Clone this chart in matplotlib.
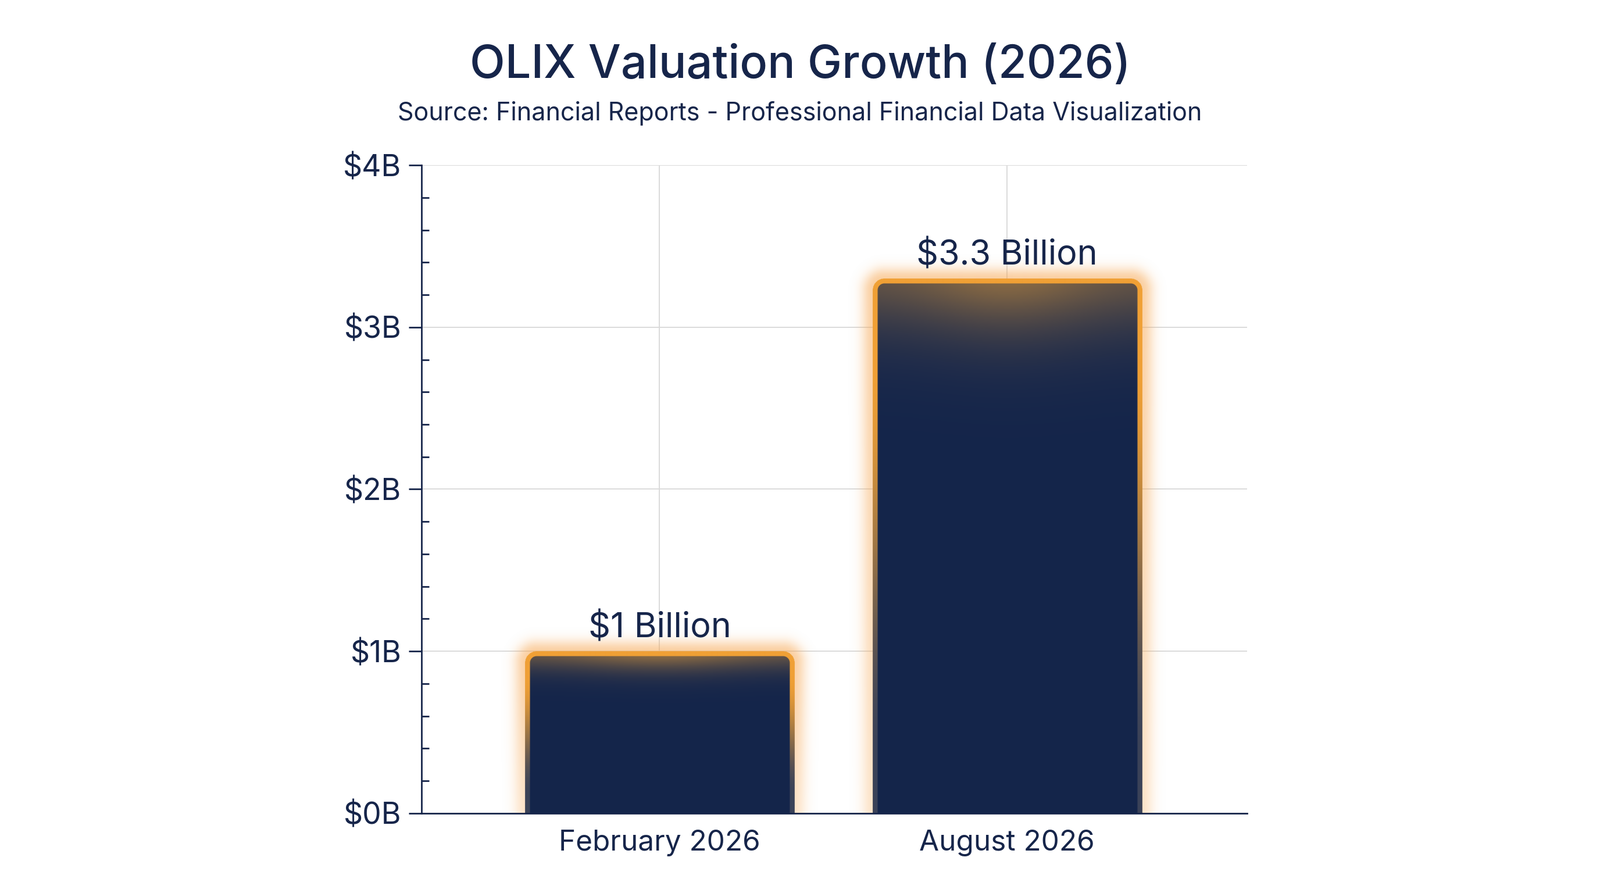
import numpy as np
import matplotlib
matplotlib.use('Agg')
import matplotlib.pyplot as plt
from matplotlib.ticker import FixedLocator, MultipleLocator
from matplotlib.colors import to_rgb

# ---------------- data ----------------
categories = ["February 2026", "August 2026"]
valuations = [1.0, 3.3]                      # USD billions
value_labels = ["$1 Billion", "$3.3 Billion"]
y_ticks = [0, 1, 2, 3, 4]
y_tick_labels = ["$0B", "$1B", "$2B", "$3B", "$4B"]
title = "OLIX Valuation Growth (2026)"
subtitle = "Source: Financial Reports - Professional Financial Data Visualization"

# ---------------- style ----------------
NAVY = '#14254b'
TEXT = '#16254a'
ORANGE = '#f0a035'
SLATE = '#3a4258'
TINT = '#c08a40'
GLOW = '#f7a650'
GRID = '#dadada'

plt.rcParams['font.family'] = ['Inter', 'DejaVu Sans']

fig = plt.figure(figsize=(13.76, 7.68), dpi=200, facecolor='white')
ax = fig.add_axes([0.2634, 0.0892, 0.5160, 0.7259])

x = np.arange(len(categories))
bars = ax.bar(x, valuations, width=0.775, color='none', linewidth=0, zorder=3)

XLIM = (-0.685, 1.69)
YLIM = (0, 4)
ax.set_xlim(*XLIM)
ax.set_ylim(*YLIM)

# grid, spines, ticks
ax.set_axisbelow(True)
ax.grid(True, which='major', color=GRID, linewidth=0.7, zorder=0)
for s in ['top', 'right']:
    ax.spines[s].set_visible(False)
for s in ['left', 'bottom']:
    ax.spines[s].set_color(TEXT)
    ax.spines[s].set_linewidth(1.0)
    ax.spines[s].set_zorder(5)

ax.set_xticks(x)
ax.set_xticklabels(categories)
ax.yaxis.set_major_locator(FixedLocator(y_ticks))
ax.set_yticklabels(y_tick_labels)
ax.yaxis.set_minor_locator(MultipleLocator(0.2))
ax.tick_params(axis='y', which='major', direction='out', length=7.9, width=1.0,
               color=TEXT, labelcolor=TEXT, labelsize=18.6, pad=4.5)
ax.tick_params(axis='y', which='minor', direction='in', length=4.7, width=1.0,
               color=TEXT)
ax.tick_params(axis='x', which='both', length=0, labelcolor=TEXT,
               labelsize=17.8, pad=10)

# ---------------- styled bars (rounded, glowing, gradient) ----------------
fig.canvas.draw()
inv = ax.transData.inverted()
c_navy = np.array(to_rgb(NAVY))
c_orange = np.array(to_rgb(ORANGE))
c_slate = np.array(to_rgb(SLATE))
c_tint = np.array(to_rgb(TINT))
c_glow = np.array(to_rgb(GLOW))


def smoothstep(a, b, t):
    t = np.clip((t - a) / (b - a), 0, 1)
    return t * t * (3 - 2 * t)


for bar in bars:
    bx, bw, bh = bar.get_x(), bar.get_width(), bar.get_height()
    px0, py0 = ax.transData.transform((bx, 0))
    px1, py1 = ax.transData.transform((bx + bw, bh))
    G = 60
    X0, X1, Y0, Y1 = px0 - G, px1 + G, py0, py1 + G
    nx, ny = int(round(X1 - X0)), int(round(Y1 - Y0))
    xs = X0 + (np.arange(nx) + 0.5) * (X1 - X0) / nx
    ys = Y0 + (np.arange(ny) + 0.5) * (Y1 - Y0) / ny
    XX, YY = np.meshgrid(xs, ys)
    cx, hx = (px0 + px1) / 2, (px1 - px0) / 2
    R, BWd = 20.0, 8.5
    qx = np.abs(XX - cx) - (hx - R)
    qy = YY - (py1 - R)
    d = np.hypot(np.maximum(qx, 0), np.maximum(qy, 0)) + np.minimum(np.maximum(qx, qy), 0) - R
    a_out = np.clip(0.5 - d, 0, 1)
    a_in = np.clip(0.5 - (d + BWd), 0, 1)
    hpx = py1 - py0
    frac = np.clip((py1 - YY) / hpx, 0, 1)

    # border colour: orange at top fading to slate lower down
    m = smoothstep(0.15, 0.9, frac)[..., None]
    border = c_orange * (1 - m) + c_slate * m

    # fill: navy with warm tint near the top
    L = 0.095 * hpx
    dtop = np.maximum(py1 - BWd - YY, 0)
    hf = 0.62 + 0.38 * np.exp(-((XX - cx) / (0.65 * hx)) ** 2)
    ta = (0.66 * np.exp(-(dtop / L) ** 1.4) * hf)[..., None]
    fill = c_navy * (1 - ta) + c_tint * ta

    # outer glow
    ga = (0.30 + 0.22 * (1 - frac)) * np.exp(-(np.maximum(d, 0) / 19.0) ** 2)
    ga = np.where(d > 0, ga, 0)

    ai, ao = a_in[..., None], a_out[..., None]
    P = ai * fill + (ao - ai) * border + (1 - ao) * ga[..., None] * c_glow
    A = a_out + (1 - a_out) * ga
    rgb = np.where(A[..., None] > 0, P / np.maximum(A[..., None], 1e-6), 1.0)
    img = np.dstack([np.clip(rgb, 0, 1), np.clip(A, 0, 1)])

    (dx0, dy0) = inv.transform((X0, Y0))
    (dx1, dy1) = inv.transform((X1, Y1))
    ax.imshow(img, extent=(dx0, dx1, dy0, dy1), origin='lower',
              interpolation='bilinear', aspect='auto', zorder=3)

ax.set_xlim(*XLIM)
ax.set_ylim(*YLIM)

# value labels
for xi, v, lab in zip(x, valuations, value_labels):
    ax.annotate(lab, (xi, v), xytext=(0, 8.5), textcoords='offset points',
                ha='center', va='baseline', fontsize=21.3, color=TEXT, zorder=6)

# titles
fig.text(0.5, 0.913, title, ha='center', va='baseline', fontsize=28.5,
         color=TEXT, fontweight='medium')
fig.text(0.5, 0.865, subtitle, ha='center', va='baseline', fontsize=15.5,
         color=TEXT)

fig.savefig('out.png', dpi=200, facecolor='white')
